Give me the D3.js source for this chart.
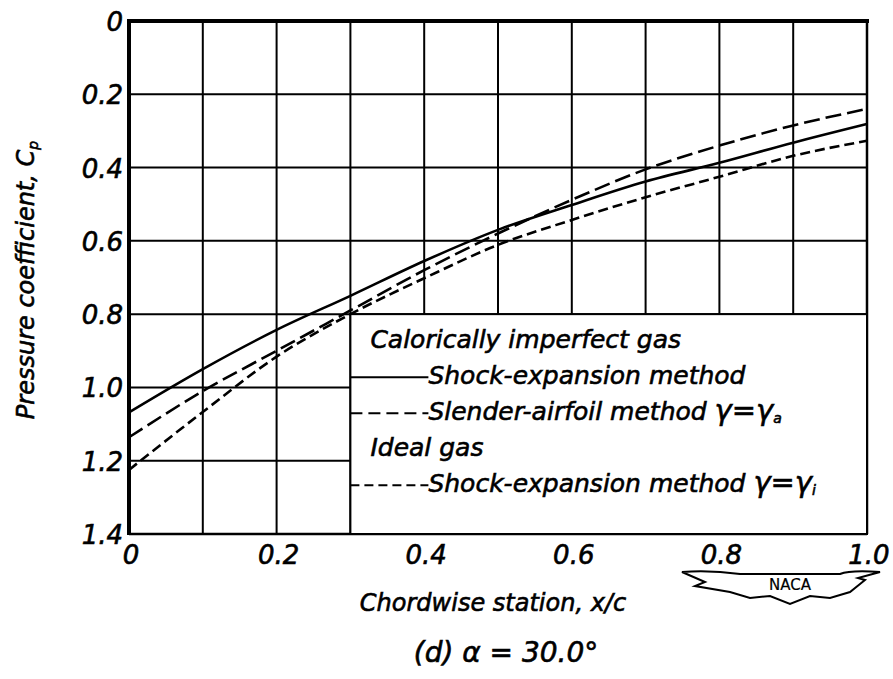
<!DOCTYPE html>
<html>
<head>
    <style>
        body { margin: 0; background: #fff; }
        svg text {
            font-family: "DejaVu Sans", sans-serif;
            font-style: italic;
            fill: #000;
            stroke: #000;
            stroke-width: 0.6px;
        }
        .tick-label { font-size: 26px; }
        .axis-title { font-size: 24px; }
        .legend text { font-size: 25px; }
    </style>
    <script src="https://d3js.org/d3.v7.min.js"></script>
</head>
<body>
    <svg width="893" height="679"></svg>
    <script>
        // chordwise station x/c
        var xValues = [0, 0.1, 0.2, 0.3, 0.4, 0.5, 0.6, 0.7, 0.8, 0.9, 1.0];
        // calorically imperfect gas, shock-expansion method
        var shockImperfect = [1.068, 0.950, 0.843, 0.750, 0.655, 0.570, 0.502, 0.438, 0.387, 0.332, 0.281];
        // calorically imperfect gas, slender-airfoil method
        var slenderAirfoil = [1.136, 1.010, 0.900, 0.790, 0.680, 0.580, 0.488, 0.405, 0.340, 0.285, 0.240];
        // ideal gas, shock-expansion method
        var shockIdeal = [1.225, 1.067, 0.916, 0.800, 0.702, 0.611, 0.543, 0.481, 0.425, 0.368, 0.327];

        var xTicks = [0, 0.2, 0.4, 0.6, 0.8, 1.0];
        var xTickLabels = ["0", "0.2", "0.4", "0.6", "0.8", "1.0"];
        var yTicks = [0, 0.2, 0.4, 0.6, 0.8, 1.0, 1.2, 1.4];
        var yTickLabels = ["0", "0.2", "0.4", "0.6", "0.8", "1.0", "1.2", "1.4"];

        var svg = d3.select("svg");

        var x = d3.scaleLinear().domain([0, 1]).range([129, 867]);
        var y = d3.scaleLinear().domain([0, 1.4]).range([21, 534]);

        // grid
        var grid = svg.append("g").attr("stroke", "#000").attr("stroke-width", 2);
        grid.selectAll(".vg")
            .data(d3.range(1, 10).map(function(i) { return i / 10; }))
            .enter().append("line")
            .attr("x1", function(d) { return x(d); })
            .attr("x2", function(d) { return x(d); })
            .attr("y1", y(0)).attr("y2", y(1.4));
        grid.selectAll(".hg")
            .data(yTicks.slice(1, -1))
            .enter().append("line")
            .attr("x1", x(0)).attr("x2", x(1))
            .attr("y1", function(d) { return y(d); })
            .attr("y2", function(d) { return y(d); });

        // frame
        svg.append("line").attr("x1", x(1)).attr("x2", x(1)).attr("y1", y(0)).attr("y2", y(1.4))
           .attr("stroke", "#000").attr("stroke-width", 2.5);
        svg.append("line").attr("x1", x(0)).attr("x2", x(1)).attr("y1", y(1.4)).attr("y2", y(1.4))
           .attr("stroke", "#000").attr("stroke-width", 2.5);
        svg.append("line").attr("x1", x(0)).attr("x2", x(1) + 2).attr("y1", y(0)).attr("y2", y(0))
           .attr("stroke", "#000").attr("stroke-width", 4);
        svg.append("line").attr("x1", x(0)).attr("x2", x(0)).attr("y1", y(0) - 2).attr("y2", y(1.4) + 1)
           .attr("stroke", "#000").attr("stroke-width", 4);

        // curves
        var line = d3.line()
            .x(function(d, i) { return x(xValues[i]); })
            .y(function(d) { return y(d); })
            .curve(d3.curveMonotoneX);

        var series = [
            { values: shockImperfect, dash: null },
            { values: slenderAirfoil, dash: "16,6" },
            { values: shockIdeal, dash: "10,5" }
        ];

        svg.selectAll(".curve")
            .data(series)
            .enter().append("path")
            .attr("class", "curve")
            .attr("d", function(d) { return line(d.values); })
            .attr("fill", "none")
            .attr("stroke", "#000")
            .attr("stroke-width", 2.6)
            .attr("stroke-dasharray", function(d) { return d.dash; });

        // legend box
        var legend = svg.append("g").attr("class", "legend");
        legend.append("rect")
            .attr("x", x(0.3)).attr("y", y(0.8))
            .attr("width", x(1) - x(0.3)).attr("height", y(1.4) - y(0.8))
            .attr("fill", "#fff").attr("stroke", "#000").attr("stroke-width", 2);

        var lx = x(0.3), ly = y(0.8);
        legend.append("text").attr("x", lx + 20).attr("y", ly + 34).text("Calorically imperfect gas");
        legend.append("text").attr("x", lx + 20).attr("y", ly + 142).text("Ideal gas");

        var entries = [
            { dy: 70, dash: null, label: "Shock-expansion method", sub: null },
            { dy: 106, dash: "12,6", label: "Slender-airfoil method ", sub: "a" },
            { dy: 178, dash: "9,5", label: "Shock-expansion method ", sub: "i" }
        ];
        entries.forEach(function(e) {
            legend.append("line")
                .attr("x1", lx).attr("x2", lx + 78)
                .attr("y1", ly + e.dy - 7).attr("y2", ly + e.dy - 7)
                .attr("stroke", "#000").attr("stroke-width", 2)
                .attr("stroke-dasharray", e.dash);
            var t = legend.append("text").attr("x", lx + 78).attr("y", ly + e.dy).text(e.label);
            if (e.sub) {
                t.append("tspan").style("font-size", "29px").text("γ=γ");
                t.append("tspan").attr("dy", 3).style("font-size", "14px").text(e.sub);
            }
        });

        // tick labels
        svg.selectAll(".xl")
            .data(xTicks)
            .enter().append("text")
            .attr("class", "tick-label")
            .attr("x", function(d) { return x(d) + 2; })
            .attr("y", 564)
            .attr("text-anchor", "middle")
            .text(function(d, i) { return xTickLabels[i]; });

        svg.selectAll(".yl")
            .data(yTicks)
            .enter().append("text")
            .attr("class", "tick-label")
            .attr("x", 123)
            .attr("y", function(d) { return y(d) + 10; })
            .attr("text-anchor", "end")
            .text(function(d, i) { return yTickLabels[i]; });

        // axis titles
        svg.append("text")
            .attr("class", "axis-title")
            .attr("transform", "translate(34,280) rotate(-90)")
            .attr("text-anchor", "middle")
            .text("Pressure coefficient, C")
            .append("tspan").attr("dy", 4).style("font-size", "14px").text("p");

        svg.append("text")
            .attr("class", "axis-title")
            .attr("x", 493).attr("y", 611)
            .attr("text-anchor", "middle")
            .text("Chordwise station, x/c");

        svg.append("text")
            .attr("class", "axis-title")
            .style("font-size", "28px")
            .attr("x", 506).attr("y", 662)
            .attr("text-anchor", "middle")
            .text("(d) α = 30.0°");

        // NACA wings
        var logo = svg.append("g").attr("transform", "translate(790,584)");
        logo.append("path")
            .attr("d", "M-50,-10 Q-80,-14 -108,-12 L-85,-2 L-95,2 L-60,8 L-40,14 L-20,12 L0,20 L20,12 L40,14 L60,8 L75,-4 L68,-6 L90,-12 Q60,-14 50,-10 Z")
            .attr("fill", "#fff").attr("stroke", "#000").attr("stroke-width", 2);
        logo.append("text")
            .attr("x", 0).attr("y", 6)
            .attr("text-anchor", "middle")
            .style("font-style", "normal")
            .style("font-size", "15px")
            .style("stroke-width", "0.2px")
            .text("NACA");
    </script>
</body>
</html>
